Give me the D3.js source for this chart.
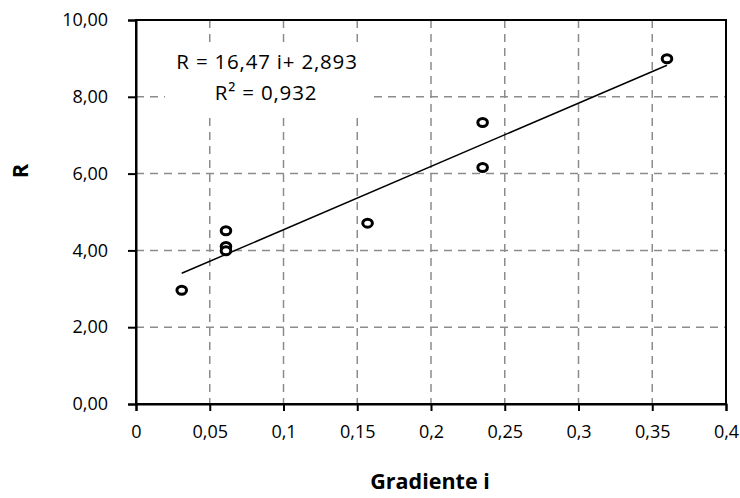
<!DOCTYPE html>
<html>
<head>
<meta charset="utf-8">
<script src="https://cdn.jsdelivr.net/npm/d3@7"></script>
<style>
  body { margin: 0; background: #fff; }
  text { font-family: "Open Sans", "Liberation Sans", sans-serif; }
</style>
</head>
<body>
<div id="vis"></div>
<script>
// frame constants
const FRAME_WIDTH = 740;
const FRAME_HEIGHT = 498;
const MARGINS = {left: 136, right: 14, top: 20, bottom: 94};

// data
const gradient = [0.031, 0.061, 0.061, 0.061, 0.157, 0.235, 0.235, 0.36];
const rValues = [2.96, 4.51, 4.10, 3.99, 4.71, 7.33, 6.16, 8.99];
const xTicks = [0, 0.05, 0.1, 0.15, 0.2, 0.25, 0.3, 0.35, 0.4];
const yTicks = [0, 2, 4, 6, 8, 10];
const slope = 16.47;
const intercept = 2.893;
const eqLines = ["R = 16,47 i+ 2,893", "R² = 0,932"];

const VIS_WIDTH = FRAME_WIDTH - MARGINS.left - MARGINS.right;
const VIS_HEIGHT = FRAME_HEIGHT - MARGINS.top - MARGINS.bottom;

const svg = d3.select("#vis")
  .append("svg")
    .attr("width", FRAME_WIDTH)
    .attr("height", FRAME_HEIGHT);

const X_SCALE = d3.scaleLinear().domain([0, 0.4]).range([0, VIS_WIDTH]);
const Y_SCALE = d3.scaleLinear().domain([0, 10]).range([VIS_HEIGHT, 0]);

const g = svg.append("g")
  .attr("transform", "translate(" + MARGINS.left + "," + MARGINS.top + ")");

// dashed grid
g.selectAll(".vgrid")
  .data(xTicks.slice(1, -1))
  .enter().append("line")
    .attr("x1", d => X_SCALE(d)).attr("x2", d => X_SCALE(d))
    .attr("y1", 0).attr("y2", VIS_HEIGHT)
    .attr("stroke", "#8c8c8c").attr("stroke-width", 1.5)
    .attr("stroke-dasharray", "8,6");

g.selectAll(".hgrid")
  .data(yTicks.slice(1, -1))
  .enter().append("line")
    .attr("x1", 0).attr("x2", VIS_WIDTH)
    .attr("y1", d => Y_SCALE(d)).attr("y2", d => Y_SCALE(d))
    .attr("stroke", "#8c8c8c").attr("stroke-width", 1.5)
    .attr("stroke-dasharray", "8,6");

// white box behind equation
g.append("rect")
  .attr("x", 29).attr("y", 22)
  .attr("width", 207).attr("height", 74)
  .attr("fill", "#fff");

// plot border
g.append("rect")
  .attr("x", 0).attr("y", 0)
  .attr("width", VIS_WIDTH).attr("height", VIS_HEIGHT)
  .attr("fill", "none").attr("stroke", "#000").attr("stroke-width", 2);

// axes
const xAxis = g.append("g")
  .attr("transform", "translate(0," + VIS_HEIGHT + ")")
  .call(d3.axisBottom(X_SCALE).tickValues(xTicks)
    .tickFormat(d => String(d).replace(".", ","))
    .tickSize(7).tickPadding(14));

const yAxis = g.append("g")
  .call(d3.axisLeft(Y_SCALE).tickValues(yTicks)
    .tickFormat(d => d3.format(".2f")(d).replace(".", ","))
    .tickSize(8).tickPadding(20));

[xAxis, yAxis].forEach(a => {
  a.select(".domain").attr("stroke-width", 2);
  a.selectAll(".tick line").attr("stroke-width", 2);
  a.selectAll("text").attr("font-size", "18px").attr("fill", "#000")
    .attr("font-family", "'Open Sans', 'Liberation Sans', sans-serif");
});

// trend line
const xs = d3.extent(gradient);
g.append("line")
  .attr("x1", X_SCALE(xs[0])).attr("y1", Y_SCALE(slope * xs[0] + intercept))
  .attr("x2", X_SCALE(xs[1])).attr("y2", Y_SCALE(slope * xs[1] + intercept))
  .attr("stroke", "#000").attr("stroke-width", 1.5);

// points
g.selectAll(".pt")
  .data(gradient)
  .enter().append("ellipse")
    .attr("cx", d => X_SCALE(d))
    .attr("cy", (d, i) => Y_SCALE(rValues[i]))
    .attr("rx", 4.8).attr("ry", 4)
    .attr("fill", "#fff").attr("stroke", "#000").attr("stroke-width", 3);

// equation
g.selectAll(".eq")
  .data(eqLines)
  .enter().append("text")
    .attr("x", (d, i) => i === 0 ? 131 : 130)
    .attr("y", (d, i) => 49 + i * 31)
    .attr("text-anchor", "middle")
    .attr("font-size", "20.5px")
    .attr("letter-spacing", "0.8px")
    .text(d => d);

// axis titles
svg.append("text")
  .attr("x", MARGINS.left + VIS_WIDTH / 2 - 1)
  .attr("y", 489)
  .attr("text-anchor", "middle")
  .attr("font-size", "21.5px").attr("font-weight", "bold")
  .text("Gradiente i");

svg.append("text")
  .attr("transform", "translate(28,171) rotate(-90)")
  .attr("text-anchor", "middle")
  .attr("font-size", "22px").attr("font-weight", "bold")
  .text("R");
</script>
</body>
</html>
